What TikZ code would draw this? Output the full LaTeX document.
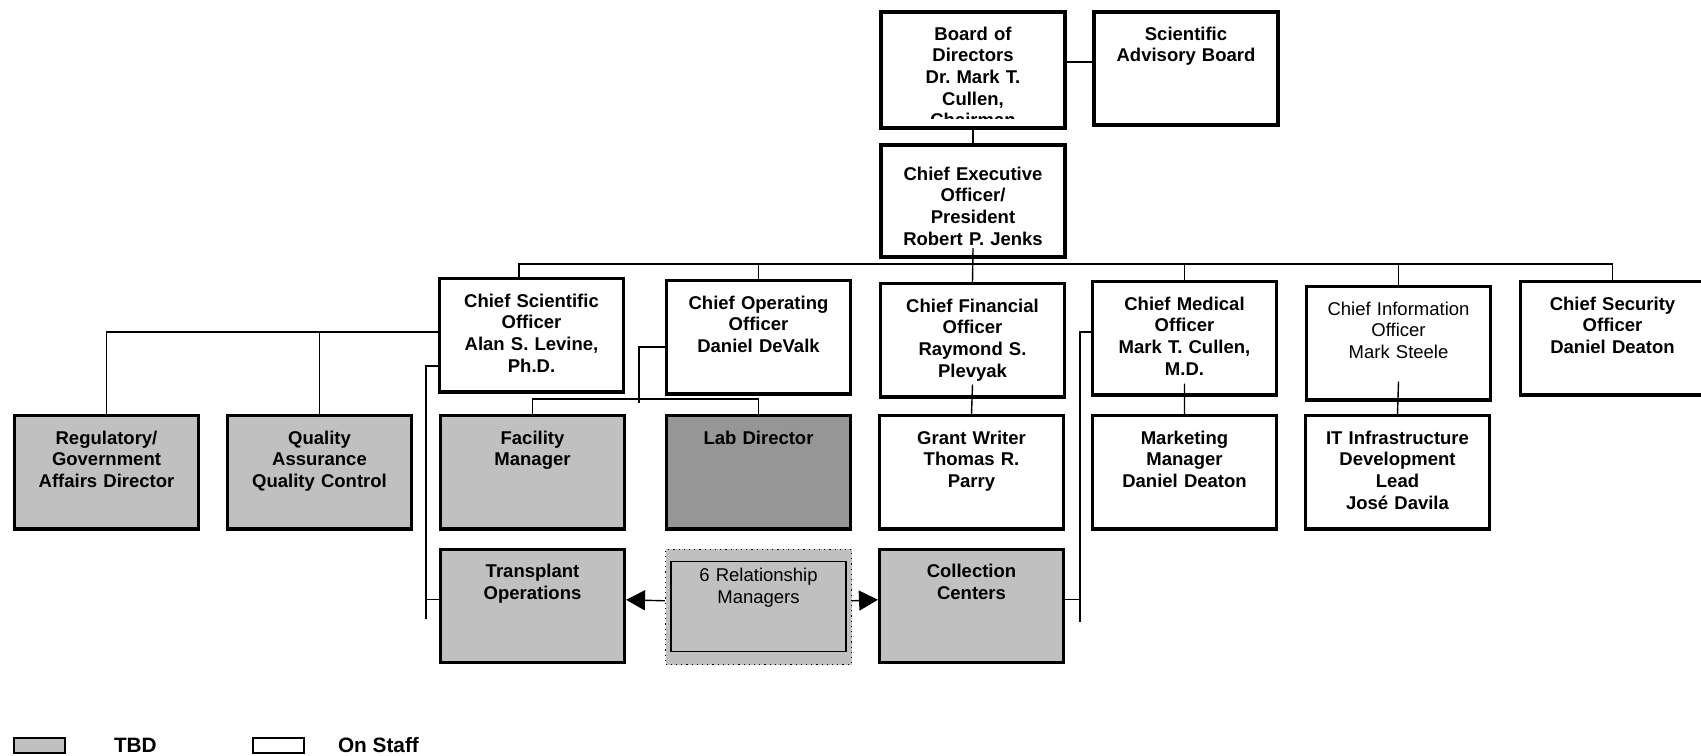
\documentclass[tikz,border=0pt]{standalone}
\usepackage{fontspec}
\setmainfont{Liberation Sans}
\usepackage{tikz}
\usetikzlibrary{positioning}
\usetikzlibrary{arrows.meta}

\definecolor{tbdgray}{RGB}{192,192,192}
\definecolor{labgray}{RGB}{150,150,150}
\newcommand{\orgsize}{\fontsize{9.25pt}{10.85pt}\selectfont}
\frenchspacing

\begin{document}
\begin{tikzpicture}[
    x=0.5pt, y=-0.5pt,
    orgbox/.style={draw, fill=white, line width=1.7pt, inner sep=0pt, text width=91.8pt, align=center, text height=14.15pt, text depth=42.4pt, font=\orgsize\bfseries},
    topbox/.style={orgbox, line width=2.2pt, text height=13.9pt},
    tbdbox/.style={orgbox, fill=tbdgray},
    labbox/.style={orgbox, fill=labgray},
    plaintext/.style={font=\orgsize},
    link/.style={line width=0.7pt},
    rmbox/.style={draw, dotted, line width=0.6pt, fill=tbdgray, inner sep=0pt, minimum width=93pt, minimum height=57.7pt},
    rminner/.style={draw, line width=0.85pt, fill=tbdgray, inner sep=0pt, text width=87.6pt, align=center, text height=10pt, text depth=35pt, font=\orgsize},
    legbox/.style={draw, line width=0.8pt, inner sep=0pt, minimum width=25.5pt, minimum height=7.5pt, anchor=north west},
    legtext/.style={inner sep=0pt, anchor=west, font=\fontsize{10.4pt}{12pt}\selectfont\bfseries},
    node distance=8.5pt and 13pt
    ]
    \useasboundingbox (0,0) rectangle (1701,755);

    %Board and CEO
    \node[topbox, anchor=north west, text depth=43.9pt] (board) at (879,10) {};
    \begin{scope}
        \clip (board.north west) rectangle ([yshift=6pt]board.south east);
        \node[topbox, draw=none, fill=none, anchor=north] (boardtxt) at (board.north) {Board of\\Directors\\Dr. Mark T.\\Cullen,\\Chairman};
    \end{scope}
    \node[topbox, right=12.5pt of board.north east, anchor=north west] (sab) {Scientific\\Advisory Board};
    \node[topbox, below=6.5pt of board, text height=17.4pt, text depth=38.4pt] (ceo) {Chief Executive\\Officer/\\President\\Robert P. Jenks};

    %Officers
    \node[orgbox, anchor=north west] (cso) at (438,277) {Chief Scientific\\Officer\\Alan S. Levine,\\Ph.D.};
    \node[orgbox, anchor=north west] (coo) at (665,279) {Chief Operating\\Officer\\Daniel DeValk};
    \node[orgbox, anchor=north west] (cfo) at (879,282) {Chief Financial\\Officer\\Raymond S.\\Plevyak};
    \node[orgbox, anchor=north west] (cmo) at (1091,280) {Chief Medical\\Officer\\Mark T. Cullen,\\M.D.};
    \node[orgbox, plaintext, anchor=north west] (cio) at (1305,285) {Chief Information\\Officer\\Mark Steele};
    \node[orgbox, anchor=north west] (csec) at (1519,280) {Chief Security\\Officer\\Daniel Deaton};

    %Second row
    \node[tbdbox, anchor=north west] (reg) at (13,414) {Regulatory/\\Government\\Affairs Director};
    \node[tbdbox, right=of reg] (qa) {Quality\\Assurance\\Quality Control};
    \node[tbdbox, right=of qa] (fac) {Facility\\Manager};
    \node[labbox, right=19.5pt of fac] (lab) {Lab Director};
    \node[orgbox, right=of lab] (grant) {Grant Writer\\Thomas R.\\Parry};
    \node[orgbox, right=of grant] (mkt) {Marketing\\Manager\\Daniel Deaton};
    \node[orgbox, right=of mkt] (it) {IT Infrastructure\\Development\\Lead\\José Davila};

    %Third row
    \node[tbdbox, below=of fac] (trans) {Transplant\\Operations};
    \node[rmbox, below=9pt of lab] (rm) {};
    \node[rminner, below=6pt of rm.north] (rmtxt) {6 Relationship\\Managers};
    \node[tbdbox, below=of grant] (coll) {Collection\\Centers};

    %Lines
    \coordinate (bus) at ([yshift=-2.5pt]ceo.south);
    \draw[link] ([yshift=4pt]board.east) -- ([yshift=4pt]board.east -| sab.west);
    \draw[link] (board.south) -- ([yshift=-1.5pt]ceo.north);
    \draw[link] ([yshift=5.5pt]ceo.south) -- (cfo.north);
    \draw[link] ([xshift=-6.25pt]cso.north) |- (bus) -| (csec.north);
    \draw[link] (coo.north) -- (coo.north |- bus);
    \draw[link] (cmo.north) -- (cmo.north |- bus);
    \draw[link] (cio.north) -- (cio.north |- bus);

    \coordinate (csoL) at ([yshift=-27.5pt]cso.north west);
    \draw[link] (csoL) -| (reg.north);
    \draw[link] (csoL -| qa.north) -- (qa.north);
    \draw[link] ([yshift=-44.5pt]cso.north west) -- ++(-6pt,0) coordinate (csoT) -- ++(0,-126.5pt);
    \draw[link] ([yshift=3pt]trans.west) -- ([yshift=3pt]trans.west -| csoT);

    \draw[link] ([yshift=-34pt]coo.north west) -- ++(-13pt,0) -- ++(0,-28pt);
    \draw[link] (fac.north) -- ++(0,7.5pt) -| (lab.north);

    \draw[link] ([yshift=7pt]cfo.south) -- (grant.north);
    \draw[link] ([yshift=6.5pt]cmo.south) -- (mkt.north);
    \draw[link] ([yshift=10pt]cio.south) -- (it.north);

    \draw[link] ([yshift=-26pt]cmo.north west) -- ++(-5.5pt,0) coordinate (cmoT) -- ++(0,-145pt);
    \draw[link] ([yshift=3pt]coll.east) -- ([yshift=3pt]coll.east -| cmoT);

    \draw[link, -{Triangle[length=9.5pt, width=10pt]}] ([yshift=3pt]rm.west) -- ([yshift=3pt]trans.east);
    \draw[link, -{Triangle[length=9.5pt, width=10pt]}] ([yshift=3pt]rm.east) -- ([yshift=3pt]coll.west);

    %Legend
    \node[legbox, fill=tbdgray] (legtbd) at (13,737) {};
    \node[legtext, right=24pt of legtbd] (legtbdtxt) {TBD};
    \node[legbox, fill=white] (legstaff) at (252,737) {};
    \node[legtext, right=16.5pt of legstaff] (legstafftxt) {On Staff};
\end{tikzpicture}
\end{document}
